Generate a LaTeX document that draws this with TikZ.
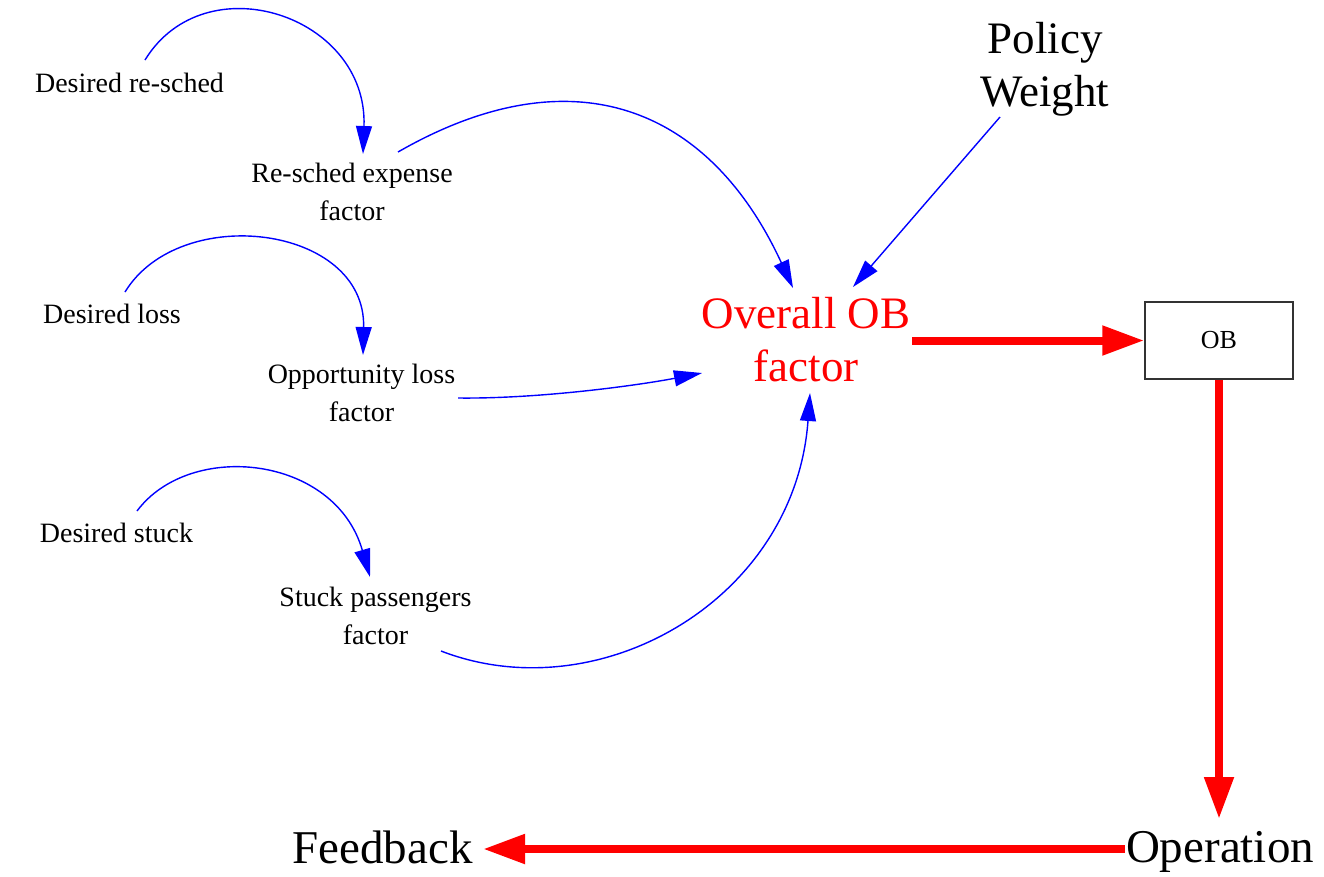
\documentclass[tikz,border=0pt]{standalone}
\usepackage{fontspec}
\setmainfont{Liberation Serif}
\usetikzlibrary{arrows.meta}

\definecolor{linkblue}{RGB}{0,0,255}
\definecolor{flowred}{RGB}{255,0,0}

% multi-line nodes are placed by the baseline of their last line
\tikzset{
  small/.style={inner sep=0pt, anchor=base, align=center,
    font=\fontsize{28}{38}\selectfont},
  large/.style={inner sep=0pt, anchor=base, align=center,
    font=\fontsize{45}{53}\selectfont},
  bottomlabel/.style={inner sep=0pt, anchor=base,
    font=\fontsize{47}{53}\selectfont},
  link/.style={draw=linkblue, line width=1.4pt,
    -{Triangle[length=28pt,width=16pt]}, fill=none},
  flow/.style={draw=flowred, line width=8pt,
    -{Triangle[length=42pt,width=28pt]}},
  stockbox/.style={draw=black!80, line width=1.5pt, minimum width=148pt,
    minimum height=77pt, inner sep=0pt, font=\fontsize{26}{30}\selectfont},
}

\begin{document}
\begin{tikzpicture}[x=1pt, y=-1pt]
\fill[white] (0,0) rectangle (1324,876);
\useasboundingbox (0,0) rectangle (1324,876);

% variables
\node[small] (dres)   at (129.5,92)  {Desired re-sched};
\node[small] (rexp)   at (352,220)   {Re-sched expense\\factor};
\node[small] (dloss)  at (112,323)   {Desired loss};
\node[small] (oloss)  at (361.5,421) {Opportunity loss\\factor};
\node[small] (dstuck) at (116.5,542) {Desired stuck};
\node[small] (stuck)  at (375.5,644) {Stuck passengers\\factor};
\node[large] (policy) at (1045,106)  {Policy\\Weight};
\node[large, text=flowred] (ovr) at (806,381) {Overall OB\\factor};
\node[stockbox] (ob)  at (1219,340.5) {OB};
\node[bottomlabel] (oper) at (1220,862)  {Operation};
\node[bottomlabel] (feed) at (382.5,863) {Feedback};

% information links
\draw[link] ([shift={(15.5,-32)}]dres.base)
  .. controls +(60,-98) and +(5,-139) .. ([shift={(11,-66)}]rexp.base);
\draw[link] ([shift={(13,-31)}]dloss.base)
  .. controls +(55,-90) and +(3,-130) .. ([shift={(1.5,-66)}]oloss.base);
\draw[link] ([shift={(20.5,-31)}]dstuck.base)
  .. controls +(53,-71) and +(-35,-122) .. ([shift={(-5.5,-67)}]stuck.base);
\draw[link] ([shift={(46,-68)}]rexp.base)
  .. controls +(174,-100) and +(-84,-182) .. ([shift={(-13,-93)}]ovr.base);
\draw[link] ([shift={(96.5,-23)}]oloss.base)
  .. controls +(82,1) and +(-62,12) .. ([shift={(-104,-8)}]ovr.base);
\draw[link] ([shift={(65.5,7)}]stuck.base)
  .. controls +(158,61) and +(-15,207) .. ([shift={(4,12)}]ovr.base);
\draw[link] ([shift={(-45,11)}]policy.base) -- ([shift={(47,-94)}]ovr.base);

% main flow
\draw[flow] ([shift={(106,-40.5)}]ovr.base) -- (ob.west);
\draw[flow] (ob.south) -- ([shift={(-1,-43)}]oper.base);
\draw[flow] ([shift={(-95,-13)}]oper.base) -- ([shift={(100.5,-14)}]feed.base);
\end{tikzpicture}
\end{document}
